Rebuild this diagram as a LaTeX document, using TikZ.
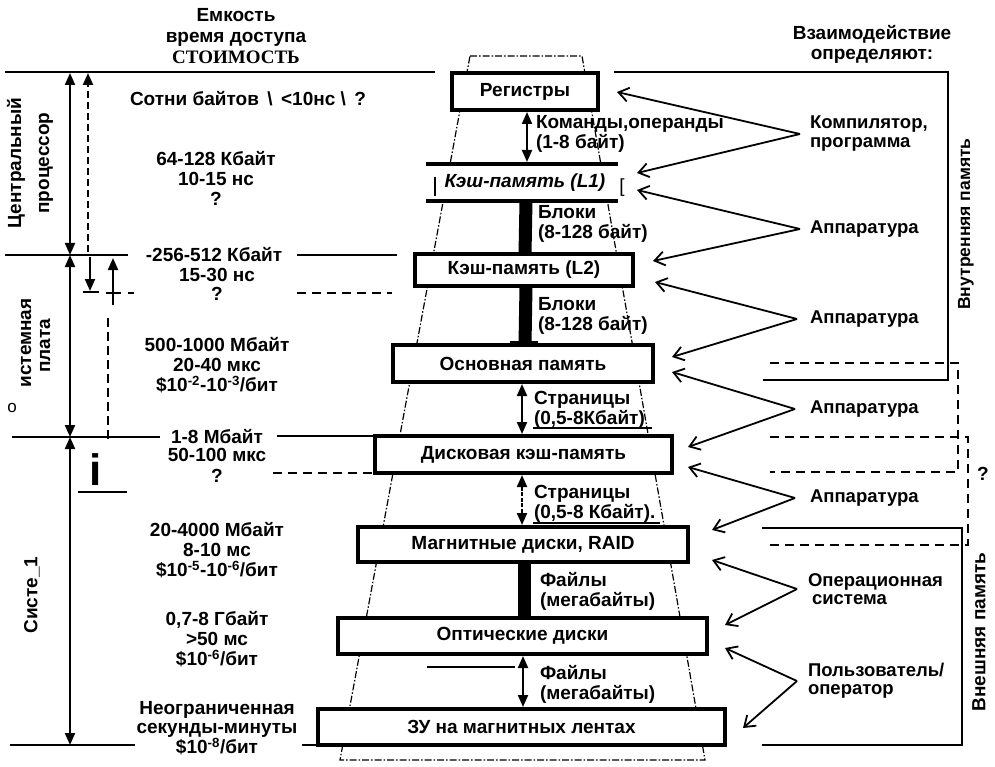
\documentclass[tikz,border=0pt]{standalone}
\usepackage{fontspec}
\setmainfont{Liberation Sans}
\newfontfamily\serifrm{Liberation Serif}
\usetikzlibrary{arrows.meta}
\newcommand\fB{\fontsize{19}{20}\selectfont\bfseries}
\begin{document}
\begin{tikzpicture}[x=1pt,y=-1pt,
  every node/.style={font=\fB, inner sep=0pt, outer sep=0pt},
  box/.style={draw, line width=3.6pt, fill=white},
  lvl/.style={line width=2.6pt},
  dsh/.style={line width=2.4pt, dash pattern=on 9pt off 6pt},
  trap/.style={line width=1.2pt, dash pattern=on 7pt off 2pt on 1.5pt off 2pt},
  tip/.tip={Triangle[length=12pt,width=10pt]},
  dbl/.style={tip-tip, line width=2pt},
  barc/.style={line width=13pt},
  rarr/.style={-{Straight Barb[length=10pt,width=14pt,line width=1.8pt]}, line width=1.8pt},
  rl/.style={anchor=west, align=left},
  cl/.style={align=center}]
\useasboundingbox (0,0) rectangle (995,767);

% ---------- dashed pyramid outline ----------
\draw[trap] (470,56) -- (582,56) -- (705,760) -- (340,760) -- cycle;

% ---------- headers ----------
\node[cl, font=\fontsize{19}{21}\selectfont\bfseries] (hdr) at (236,36) {Емкость\\время доступа\\{\serifrm\bfseries СТОИМОСТЬ}};
\node[cl] (hdr2) at (872,44) {Взаимодействие\\определяют:};

% ---------- level lines ----------
\draw[lvl] (5,72) -- (435,72);
\draw[lvl] (614,72) -- (948,72) -- (948,380) -- (763,380);
\draw[lvl] (5,255) -- (128,255);
\draw[lvl] (297,255) -- (397,255);
\draw[lvl] (12,437) -- (160,437);
\draw[lvl] (10,745) -- (135,745);
\draw[lvl] (762,528) -- (962,528) -- (962,745) -- (762,745);

% ---------- memory boxes ----------
\node[box, minimum width=146pt, minimum height=37pt] (reg) at (525,91.5) {Регистры};
\node[fill=white, minimum width=186pt, minimum height=37pt, font=\fB\itshape] (l1) at (525,182.5) {Кэш-память (L1)};
\draw[line width=3.6pt] ([xshift=-6pt]l1.north west) -- (l1.north east);
\draw[line width=3.6pt] ([xshift=-6pt]l1.south west) -- (l1.south east);
\draw[line width=1.4pt] (435,177) -- (435,196);
\node[font=\fontsize{19}{20}\selectfont\mdseries] (brk) at (622,188) {[};
\node[box, minimum width=218pt, minimum height=32pt] (l2) at (524,270) {Кэш-память (L2)};
\node[box, minimum width=260pt, minimum height=37pt] (main) at (523,363.5) {Основная память};
\node[box, minimum width=297pt, minimum height=37pt] (disk) at (523.5,454.5) {Дисковая кэш-память};
\node[box, minimum width=330pt, minimum height=35pt] (mag) at (523,544.5) {Магнитные диски, RAID};
\node[box, minimum width=369pt, minimum height=36pt] (opt) at (522.5,636) {Оптические диски};
\node[box, minimum width=407pt, minimum height=36pt] (tape) at (521.5,727) {ЗУ на магнитных лентах};

\coordinate (dl) at (277,436);
\draw[lvl] (dl) -- (disk.north west);
\coordinate (tl) at (302,745);
\draw[lvl] (tl) -- (tape.south west);
\coordinate (ddl) at (273,473);
\draw[dsh] (ddl) -- (disk.south west);

% ---------- connectors between levels ----------
\draw[dbl] ([xshift=2pt,yshift=-2pt]reg.south) -- ([xshift=2pt,yshift=2pt]l1.north);
\draw[barc] ([xshift=1pt]l1.south) -- ([xshift=1pt]l2.north);
\draw[barc] ([xshift=2pt]l2.south) -- ([xshift=2pt]main.north);
\draw[line width=4pt] (510,343) -- (538,343);
\draw[dbl] ([xshift=-1pt,yshift=-2pt]main.south) -- ([xshift=-1.5pt,yshift=2pt]disk.north);
\draw[dbl, dash pattern=on 4pt off 1.5pt] ([xshift=-1.5pt,yshift=-2pt]disk.south) -- ([xshift=-1pt,yshift=2pt]mag.north);
\draw[barc] ([xshift=1.5pt]mag.south) -- ([xshift=2pt]opt.north);
\draw[dbl] ([xshift=0.5pt,yshift=-2pt]opt.south) -- ([xshift=1.5pt,yshift=2pt]tape.north);
\draw[line width=1.4pt] (427,667) -- (515,667);

\node[rl] (k1) at (536,134) {Команды,операнды\\(1-8 байт)};
\node[rl] (b1) at (538,224) {Блоки\\(8-128 байт)};
\node[rl] (b2) at (538,316) {Блоки\\(8-128 байт)};
\node[rl] (s1) at (534,410) {Страницы\\(0,5-8Кбайт)};
\draw[line width=1.4pt] (533,428) -- (652,428);
\node[rl] (s2) at (534,504) {Страницы\\(0,5-8 Кбайт).};
\draw[line width=1.4pt] (533,523) -- (660,523);
\node[rl] (f1) at (540,591) {Файлы\\(мегабайты)};
\node[rl] (f2) at (540,684) {Файлы\\(мегабайты)};

% ---------- left column texts ----------
\node[anchor=west] (t1) at (130,99) {Сотни байтов \,\textbackslash{} \,<10нс \textbackslash{} \,?};
\node[cl] (t2) at (216,178) {64-128 Кбайт\\10-15 нс\\?};
\node (t3) at (214,255) {-256-512 Кбайт};
\node[cl, font=\fontsize{19}{19}\selectfont\bfseries] (t3b) at (217,284) {15-30 нс\\?};
\node[cl] (t4) at (217,365) {500-1000 Мбайт\\20-40 мкс\\\$10\textsuperscript{-2}-10\textsuperscript{-3}/бит};
\node (t5) at (217,437) {1-8 Мбайт};
\node[cl, font=\fontsize{19}{21}\selectfont\bfseries] (t5b) at (217,465) {50-100 мкс\\?};
\node[cl] (t6) at (217,550) {20-4000 Мбайт\\8-10 мс\\\$10\textsuperscript{-5}-10\textsuperscript{-6}/бит};
\node[cl] (t7) at (217,639) {0,7-8 Гбайт\\>50 мс\\\$10\textsuperscript{-6}/бит};
\node[cl, font=\fontsize{19}{19}\selectfont\bfseries] (t8) at (217,728) {Неограниченная\\секунды-минуты\\\$10\textsuperscript{-8}/бит};

% ---------- left rotated labels ----------
\node[rotate=90] (cp1) at (16,163) {Центральный};
\node[rotate=90] (cp2) at (46,163) {процессор};
\node[rotate=90] (sp1) at (26,343) {истемная};
\node[rotate=90] (sp2) at (45,346) {плата};
\node[font=\fontsize{17}{18}\selectfont\mdseries] (oo) at (12,408) {о};
\node[rotate=90] (sys) at (32,595) {Систе\_1};
\node[font=\fontsize{44}{44}\selectfont\bfseries] (ii) at (96,470) {i};
\draw[line width=2.4pt] (78,492) -- (127,492);

% ---------- left arrows ----------
\coordinate (a0) at (70,73);
\coordinate (a1) at (70,255);
\coordinate (a2) at (70,437);
\coordinate (a3) at (70,745);
\draw[dbl] (a1) -- (a0);
\draw[dbl] (a2) -- (a1);
\draw[dbl] (a3) -- (a2);
\coordinate (d0) at (88,252);
\coordinate (d1) at (88,73);
\draw[-tip, line width=2pt, dash pattern=on 7pt off 4pt] (d0) -- (d1);
\coordinate (e0) at (90,257);
\coordinate (e1) at (90,291);
\draw[-tip, line width=2pt] (e0) -- (e1);
\draw[line width=2pt] (83,292) -- (99,292);
\coordinate (g0) at (113,305);
\coordinate (g1) at (113,258);
\draw[-tip, line width=2pt] (g0) -- (g1);
\draw[line width=2pt] (106,293) -- (121,293);
\draw[line width=2pt] (128,293) -- (134,293);
\draw[dsh] (297,293) -- (392,293);
\draw[line width=2pt, dash pattern=on 9pt off 5pt] (108,318) -- (108,440);

% ---------- right labels ----------
\node[rl, font=\fontsize{18.5}{19}\selectfont\bfseries] (comp) at (810,134) {Компилятор,\\программа};
\node[rl, font=\fontsize{18.5}{19}\selectfont\bfseries] (hw1) at (810,229) {Аппаратура};
\node[rl, font=\fontsize{18.5}{19}\selectfont\bfseries] (hw2) at (810,319) {Аппаратура};
\node[rl, font=\fontsize{18.5}{19}\selectfont\bfseries] (hw3) at (810,409) {Аппаратура};
\node[rl, font=\fontsize{18.5}{19}\selectfont\bfseries] (hw4) at (810,498) {Аппаратура};
\node[rl, font=\fontsize{18.5}{18}\selectfont\bfseries] (os) at (808,589) {Операционная\\\hspace*{4pt}система};
\node[rl, font=\fontsize{18.5}{18}\selectfont\bfseries] (usr) at (808,681) {Пользователь/\\оператор};

\coordinate (r1) at (617,92);   \coordinate (r2) at (637,173);
\coordinate (r3) at (637,190);  \coordinate (r4) at (653,261);
\coordinate (r5) at (655,282);  \coordinate (r6) at (672,357);
\coordinate (r7) at (672,372);  \coordinate (r8) at (688,447);
\coordinate (r9) at (688,467);  \coordinate (r10) at (712,530);
\coordinate (r11) at (712,560); \coordinate (r12) at (725,625);
\coordinate (r13) at (725,648); \coordinate (r14) at (743,728);

\draw[rarr] ([xshift=-10pt]comp.west) -- (r1);
\draw[rarr] ([xshift=-10pt]comp.west) -- (r2);
\draw[rarr] ([xshift=-10pt]hw1.west) -- (r3);
\draw[rarr] ([xshift=-10pt]hw1.west) -- (r4);
\draw[rarr] ([xshift=-13pt]hw2.west) -- (r5);
\draw[rarr] ([xshift=-13pt]hw2.west) -- (r6);
\draw[rarr] ([xshift=-15pt]hw3.west) -- (r7);
\draw[rarr] ([xshift=-15pt]hw3.west) -- (r8);
\draw[rarr] ([xshift=-15pt]hw4.west) -- (r9);
\draw[rarr] ([xshift=-15pt]hw4.west) -- (r10);
\draw[rarr] ([xshift=-11pt]os.west) -- (r11);
\draw[rarr] ([xshift=-11pt]os.west) -- (r12);
\draw[rarr] ([xshift=-11pt]usr.west) -- (r13);
\draw[rarr] ([xshift=-11pt]usr.west) -- (r14);

% ---------- right brackets ----------
\draw[dsh] (770,363) -- (958,363) -- (958,472) -- (770,472);
\draw[dsh] (770,437) -- (968,437) -- (968,545) -- (770,545);
\node (qq) at (983,474) {?};
\node[rotate=90, font=\fontsize{17.5}{18}\selectfont\bfseries] (inm) at (966,224) {Внутренняя память};
\node[rotate=90] (exm) at (979,632) {Внешняя память};
\end{tikzpicture}
\end{document}
